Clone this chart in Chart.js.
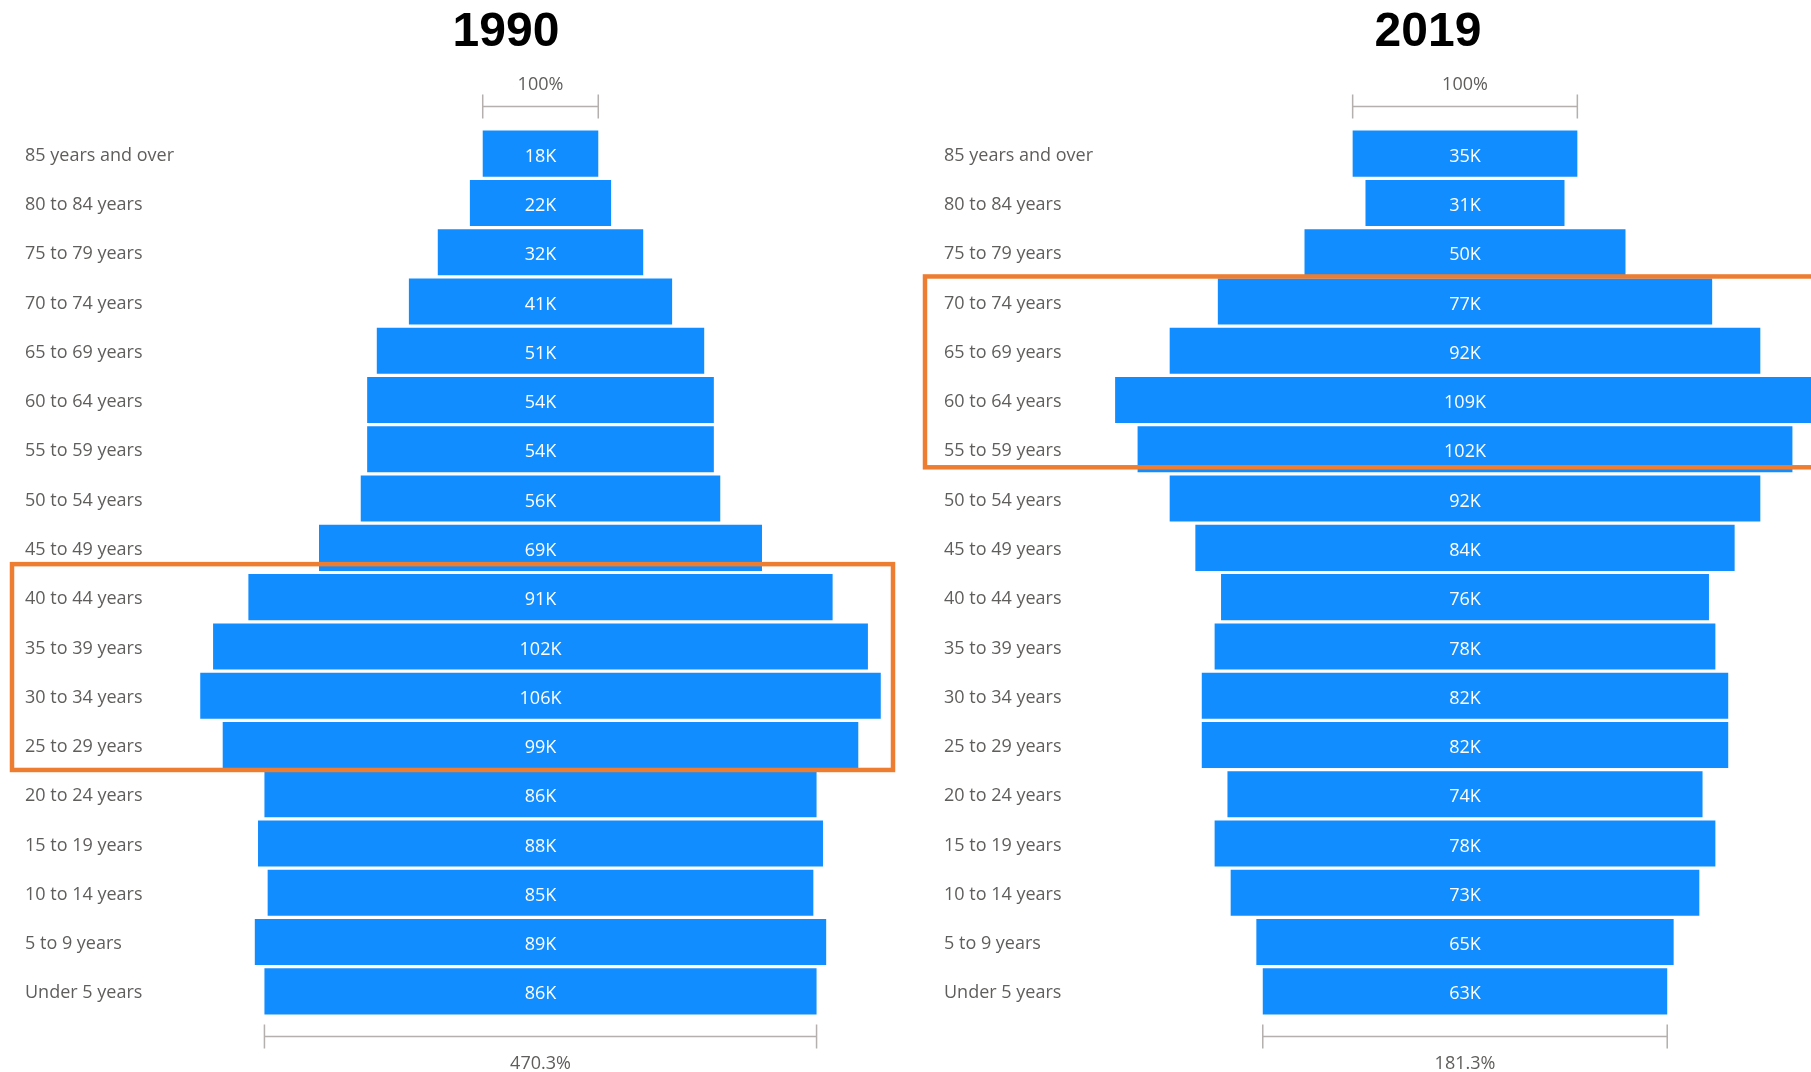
<!DOCTYPE html>
<html>
<head>
<meta charset="utf-8">
<title>Population by age, 1990 vs 2019</title>
<script src="https://cdn.jsdelivr.net/npm/chart.js@4.4.1/dist/chart.umd.min.js"></script>
<style>
    body {
        margin: 0;
        background: #ffffff;
        width: 1811px;
        height: 1072px;
        overflow: hidden;
        position: relative;
    }
    canvas {
        position: absolute;
        top: 0;
    }
    .year {
        position: absolute;
        top: 1px;
        width: 240px;
        line-height: 58px;
        text-align: center;
        font-family: "Liberation Sans", Arial, sans-serif;
        font-weight: bold;
        font-size: 48px;
        color: #000;
        z-index: 2;
    }
</style>
</head>
<body>

<div class="year" id="title1990" style="left:386px"></div>
<div class="year" id="title2019" style="left:1308px"></div>
<canvas id="chart1990" width="905" height="1072" style="left:0"></canvas>
<canvas id="chart2019" width="906" height="1072" style="left:905px"></canvas>

<script>

const ageGroups = [
    '85 years and over', '80 to 84 years', '75 to 79 years', '70 to 74 years',
    '65 to 69 years', '60 to 64 years', '55 to 59 years', '50 to 54 years',
    '45 to 49 years', '40 to 44 years', '35 to 39 years', '30 to 34 years',
    '25 to 29 years', '20 to 24 years', '15 to 19 years', '10 to 14 years',
    '5 to 9 years', 'Under 5 years'
];

// population in thousands
const pop1990 = [18, 22, 32, 41, 51, 54, 54, 56, 69, 91, 102, 106, 99, 86, 88, 85, 89, 86];
const pop2019 = [35, 31, 50, 77, 92, 109, 102, 92, 84, 76, 78, 82, 82, 74, 78, 73, 65, 63];

const years = ['1990', '2019'];
const topBracketLabels = ['100%', '100%'];
const bottomBracketLabels = ['470.3%', '181.3%'];

// first and last age group of the outlined block
const highlight1990 = ['40 to 44 years', '25 to 29 years'];
const highlight2019 = ['70 to 74 years', '55 to 59 years'];

const PX_PER_K = 6.42;
const BAR_BLUE = '#118DFF';
const TEXT_GREY = '#605E5C';
const FONT = '"Open Sans", "Noto Sans", sans-serif';


// white "18K" labels in the middle of each bar
const barLabels = {
    id: 'barLabels',
    afterDatasetsDraw(chart) {
        const ctx = chart.ctx;
        const xs = chart.scales.x;
        const meta = chart.getDatasetMeta(0);
        const raw = chart.config.options.plugins.barLabels.values;
        ctx.save();
        ctx.fillStyle = '#ffffff';
        ctx.font = '18px ' + FONT;
        ctx.textAlign = 'center';
        ctx.textBaseline = 'middle';
        meta.data.forEach((bar, i) => {
            ctx.fillText(raw[i] + 'K', xs.getPixelForValue(0), bar.y + 3);
        });
        ctx.restore();
    }
};

// width markers above the first bar and below the last one
const brackets = {
    id: 'brackets',
    afterDatasetsDraw(chart, args, opts) {
        const ctx = chart.ctx;
        const xs = chart.scales.x;
        const meta = chart.getDatasetMeta(0);
        const first = meta.data[0];
        const last = meta.data[meta.data.length - 1];
        const vals = opts.values;

        function bracket(v, lineY, text, textY) {
            const x1 = xs.getPixelForValue(-v / 2);
            const x2 = xs.getPixelForValue(v / 2);
            ctx.strokeStyle = '#B3B0AD';
            ctx.lineWidth = 1.5;
            ctx.beginPath();
            ctx.moveTo(x1, lineY);
            ctx.lineTo(x2, lineY);
            ctx.moveTo(x1, lineY - 12);
            ctx.lineTo(x1, lineY + 12);
            ctx.moveTo(x2, lineY - 12);
            ctx.lineTo(x2, lineY + 12);
            ctx.stroke();
            ctx.fillStyle = TEXT_GREY;
            ctx.fillText(text, (x1 + x2) / 2, textY);
        }

        ctx.save();
        ctx.font = '18px ' + FONT;
        ctx.textAlign = 'center';
        ctx.textBaseline = 'middle';
        const topEdge = first.y - first.height / 2;
        const bottomEdge = last.y + last.height / 2;
        bracket(vals[0], topEdge - 24, opts.topText, topEdge - 46);
        bracket(vals[vals.length - 1], bottomEdge + 22, opts.bottomText, bottomEdge + 49);
        ctx.restore();
    }
};

// orange outline round a block of rows
const outline = {
    id: 'outline',
    afterDraw(chart, args, opts) {
        const ys = chart.scales.y;
        const ctx = chart.ctx;
        const top = ys.getPixelForValue(ageGroups.indexOf(opts.rows[0])) - opts.padTop;
        const bottom = ys.getPixelForValue(ageGroups.indexOf(opts.rows[1])) + opts.padBottom;
        ctx.save();
        ctx.strokeStyle = '#ED7D31';
        ctx.lineWidth = 4.5;
        ctx.strokeRect(opts.left, top, opts.right - opts.left, bottom - top);
        ctx.restore();
    }
};


function makePyramid(canvasId, values, setup) {
    const canvas = document.getElementById(canvasId);
    const areaLeft = setup.padLeft;
    const areaRight = canvas.width;

    return new Chart(canvas.getContext('2d'), {
        type: 'bar',
        data: {
            labels: ageGroups,
            datasets: [{
                data: values.map(v => [-v / 2, v / 2]),
                backgroundColor: BAR_BLUE,
                borderWidth: 0,
                barPercentage: 1,
                categoryPercentage: 0.935
            }]
        },
        options: {
            indexAxis: 'y',
            responsive: false,
            animation: false,
            layout: {
                padding: { left: setup.padLeft, right: 0, top: 129, bottom: 56 }
            },
            plugins: {
                legend: { display: false },
                tooltip: { enabled: false },
                barLabels: { values: values },
                brackets: {
                    values: values,
                    topText: setup.topText,
                    bottomText: setup.bottomText
                },
                outline: setup.outline
            },
            scales: {
                x: {
                    display: false,
                    min: -(setup.center - areaLeft) / PX_PER_K,
                    max: (areaRight - setup.center) / PX_PER_K
                },
                y: {
                    grid: { display: false, drawTicks: false },
                    border: { display: false },
                    ticks: {
                        mirror: true,
                        padding: 0,
                        labelOffset: 2,
                        color: TEXT_GREY,
                        font: { family: FONT, size: 18 }
                    }
                }
            }
        },
        plugins: [barLabels, brackets, outline]
    });
}


document.addEventListener('DOMContentLoaded', function () {

    document.getElementById('title1990').textContent = years[0];
    document.getElementById('title2019').textContent = years[1];

    makePyramid('chart1990', pop1990, {
        padLeft: 25,
        center: 540.5,
        topText: topBracketLabels[0],
        bottomText: bottomBracketLabels[0],
        outline: { rows: highlight1990, left: 12, right: 893, padTop: 33, padBottom: 25 }
    });

    makePyramid('chart2019', pop2019, {
        padLeft: 39,
        center: 560,
        topText: topBracketLabels[1],
        bottomText: bottomBracketLabels[1],
        outline: { rows: highlight2019, left: 20, right: 920, padTop: 25, padBottom: 18 }
    });
});
</script>
</body>
</html>
